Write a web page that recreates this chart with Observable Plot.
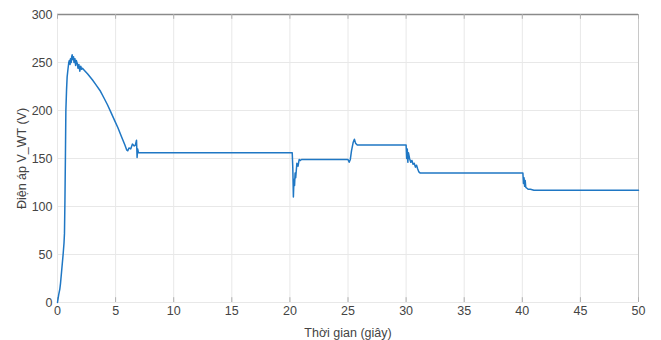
<!DOCTYPE html>
<html>
<head>
<meta charset="utf-8">
<script src="https://cdn.jsdelivr.net/npm/d3@7"></script>
<script src="https://cdn.jsdelivr.net/npm/@observablehq/plot@0.6"></script>
<style>
  html, body { margin: 0; padding: 0; background: #fff; }
  #chart svg { display: block; }
</style>
</head>
<body>
<div id="chart"></div>
<script>
// Time (s)
const time = [
  0, 0.1, 0.2, 0.26, 0.35, 0.49, 0.56, 0.6, 0.64, 0.68, 0.72, 0.78, 0.83, 0.9, 0.97,
  1.02, 1.08, 1.12, 1.18, 1.22, 1.26, 1.32, 1.38, 1.42, 1.5, 1.56, 1.62, 1.7, 1.76, 1.84, 1.92, 2.0, 2.08, 2.15,
  2.3, 2.6, 3.0, 3.3, 3.7, 4.0, 4.3, 4.6, 4.9, 5.2, 5.5, 5.8, 5.95, 6.05, 6.15, 6.3, 6.45, 6.6, 6.7, 6.8, 6.85, 6.9, 6.96, 7.05,
  20.2, 20.25, 20.3, 20.35, 20.4, 20.45, 20.5, 20.6, 20.7, 20.8, 20.9, 21.0,
  25.0, 25.1, 25.2, 25.3, 25.45, 25.55, 25.65, 25.8,
  30.0, 30.05, 30.1, 30.15, 30.2, 30.3, 30.4, 30.5, 30.6, 30.7, 30.8, 30.9, 31.0, 31.1, 31.2,
  40.05, 40.1, 40.15, 40.2, 40.25, 40.3, 40.4, 40.5, 40.7, 41.0, 41.3, 50
];
// Voltage V_WT (V)
const voltage = [
  0, 8, 14, 20, 32, 51, 62, 72, 106, 150, 200, 222, 235, 243, 250,
  252, 248, 254, 250, 256, 258, 253, 256, 250, 254, 247, 252, 249, 244, 248, 241, 246, 243, 244,
  242, 238, 232, 227, 220, 213, 206, 198, 190, 182, 173, 164, 159, 158, 161, 160, 165, 163, 164, 169, 151, 160, 156, 156,
  156, 140, 110, 128, 122, 135, 130, 145, 142, 149, 148, 149,
  149, 146, 149, 158, 167, 170, 166, 164,
  164, 150, 160, 146, 156, 150, 146, 148, 144, 145, 141, 143, 139, 136, 135,
  135, 124, 130, 121, 127, 120, 119, 118, 118, 117, 117, 117
];
const xTicks = [0, 5, 10, 15, 20, 25, 30, 35, 40, 45, 50];
const yTicks = [0, 50, 100, 150, 200, 250, 300];

const data = time.map((t, i) => ({t, v: voltage[i]}));

const chart = Plot.plot({
  width: 661,
  height: 340,
  marginLeft: 57,
  marginRight: 23,
  marginTop: 14,
  marginBottom: 38,
  style: {fontFamily: "'Liberation Sans', Arial, sans-serif", fontSize: "12px", color: "#444", background: "#fff"},
  x: {domain: [0, 50], ticks: xTicks},
  y: {domain: [0, 300], ticks: yTicks},
  marks: [
    Plot.gridX(xTicks, {stroke: "#e8e8e8", strokeOpacity: 1}),
    Plot.gridY(yTicks, {stroke: "#e8e8e8", strokeOpacity: 1}),
    Plot.ruleX([50], {stroke: "#c8c8c8", strokeWidth: 1}),
    Plot.ruleY([300], {stroke: "#8a8a8a", strokeWidth: 1.6}),
    Plot.ruleX(xTicks, {x: d => d, y1: 0, y2: 5, stroke: "#b0b0b0"}),
    Plot.ruleX(xTicks, {x: d => d, y1: 295, y2: 300, stroke: "#b0b0b0"}),
    Plot.axisX({ticks: xTicks, tickSize: 0, tickPadding: 4, label: "Thời gian (giây)", labelAnchor: "center", labelArrow: "none", labelOffset: 34, fontSize: 12.5}),
    Plot.axisY({ticks: yTicks, tickSize: 0, tickPadding: 5, label: "Điện áp V_WT (V)", labelAnchor: "center", labelArrow: "none", labelOffset: 40, fontSize: 12.5}),
    Plot.line(data, {x: "t", y: "v", stroke: "#1f77c4", strokeWidth: 1.5, strokeLinejoin: "round"})
  ]
});
document.getElementById("chart").appendChild(chart);
</script>
</body>
</html>
